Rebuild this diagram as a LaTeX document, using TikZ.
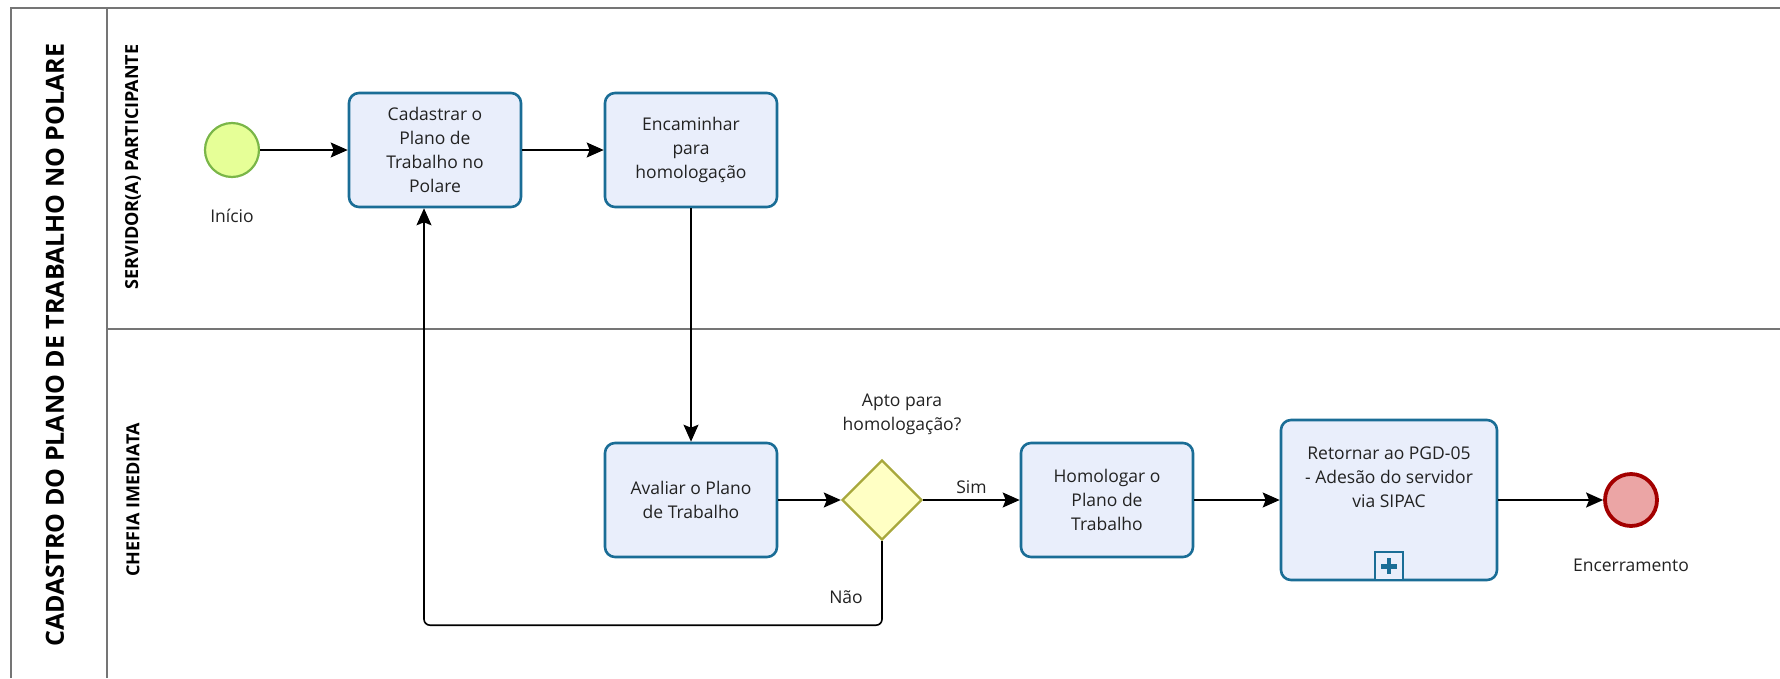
\documentclass[tikz,border=0pt]{standalone}
\usepackage{fontspec}
\setmainfont{Open Sans}
\usetikzlibrary{arrows.meta,shapes.geometric}

\definecolor{poolgray}{HTML}{757575}
\definecolor{taskfill}{HTML}{E9EEFB}
\definecolor{taskline}{HTML}{1A6D96}
\definecolor{startfill}{HTML}{E6FF97}
\definecolor{startline}{HTML}{7AB648}
\definecolor{gwfill}{HTML}{FFFFC4}
\definecolor{gwline}{HTML}{A8A83C}
\definecolor{endfill}{HTML}{EBA5A5}
\definecolor{endline}{HTML}{A30000}
\definecolor{txt}{HTML}{222222}

\begin{document}
\begin{tikzpicture}[x=1pt,y=-1pt,
  poolline/.style={draw=poolgray,line width=1.8pt},
  task/.style={draw=taskline,fill=taskfill,line width=2.6pt,rounded corners=10pt,
    minimum width=172pt,minimum height=114pt,align=center,text=txt,
    font=\fontsize{17.5}{24}\selectfont},
  event/.style={circle,minimum size=54pt,inner sep=0pt},
  lbl/.style={text=txt,align=center,font=\fontsize{17.5}{24}\selectfont},
  flow/.style={draw=black,line width=1.6pt,-{Stealth[length=17pt,width=15pt,inset=3pt]}}
]
\useasboundingbox (0,0) rectangle (1780,678);

% pool and lanes
\draw[poolline] (11,678) -- (11,8) -- (1780,8);
\draw[poolline] (107,8) -- (107,678);
\draw[poolline] (107,329) -- (1780,329);
\node[rotate=90,font=\fontsize{25}{28}\bfseries] (pool) at (55,345) {CADASTRO DO PLANO DE TRABALHO NO POLARE};
\node[rotate=90,font=\fontsize{18}{20}\bfseries] (lane1) at (133,167) {SERVIDOR(A) PARTICIPANTE};
\node[rotate=90,font=\fontsize{18}{20}\bfseries] (lane2) at (133,500) {CHEFIA IMEDIATA};

% elements
\node[event,draw=startline,fill=startfill,line width=2.2pt] (start) at (232,150) {};
\node[lbl] (startlbl) at (232,216) {Início};
\node[task] (cad) at (435,150) {Cadastrar o\\Plano de\\Trabalho no\\Polare};
\node[task] (enc) at (691,150) {Encaminhar\\para\\homologação};
\node[task] (aval) at (691,500) {Avaliar o Plano\\de Trabalho};
\node[diamond,draw=gwline,fill=gwfill,line width=2.4pt,minimum size=80pt,inner sep=0pt] (gw) at (882,500) {};
\node[lbl] (gwlbl) at (902,414) {Apto para\\homologação?};
\node[task] (hom) at (1107,500) {Homologar o\\Plano de\\Trabalho};
\node[task,minimum width=216pt,minimum height=160pt] (ret) at (1389,500) {Retornar ao PGD-05\\- Adesão do servidor\\via SIPAC\\[22pt]};
\node[draw=taskline,fill=taskfill,line width=2pt,minimum size=28pt,inner sep=0pt,anchor=south] (sub) at (ret.south) {};
\draw[taskline,line width=4.5pt] (sub.center) +(-8,0) -- +(8,0) (sub.center) +(0,-8) -- +(0,8);
\node[event,draw=endline,fill=endfill,line width=3.8pt,minimum size=52pt] (end) at (1631,500) {};
\node[lbl] (endlbl) at (1631,565) {Encerramento};

% flows
\draw[flow] (start) -- (cad);
\draw[flow] (cad) -- (enc);
\draw[flow] (enc) -- (aval);
\draw[flow] (aval) -- (gw);
\draw[flow] (gw) -- node[lbl,above=2pt] {Sim} (hom);
\draw[flow] (hom) -- (ret);
\draw[flow] (ret) -- (end);
\draw[flow,rounded corners=6pt] (gw.south) -- ++(0,84) -| ([xshift=-11pt]cad.south);
\node[lbl] (nao) at (846,597) {Não};
\end{tikzpicture}
\end{document}
